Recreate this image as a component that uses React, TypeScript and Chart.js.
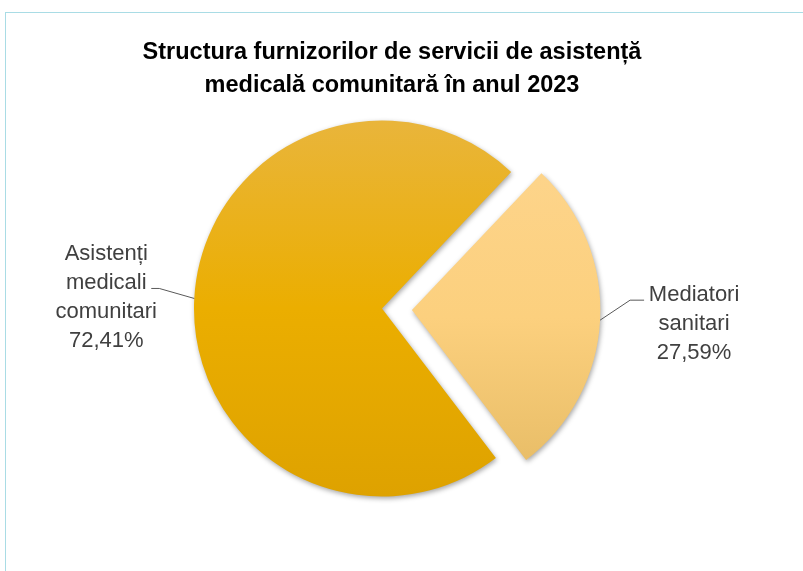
import React, { useEffect, useRef } from "react";
import { Chart, registerables } from "chart.js";

Chart.register(...registerables);

const titleLines = [
  "Structura furnizorilor de servicii de asistență",
  "medicală comunitară în anul 2023",
];
const categories = ["Mediatori sanitari", "Asistenți medicali comunitari"];
const categoryLines = [["Mediatori", "sanitari"], ["Asistenți", "medicali", "comunitari"]];
const values = [27.59, 72.41];
const explode = [120, 0];
const gradientStops = [
  ["#FDD48A", "#FCD07E", "#E9BE68"],
  ["#E9B53B", "#EBAE00", "#DEA200"],
];

const fmtPct = (v: number) => v.toFixed(2).replace(".", ",") + "%";

const shadowPlugin = {
  id: "sliceShadow",
  beforeDatasetsDraw(chart: any) {
    const c = chart.ctx;
    c.save();
    c.shadowColor = "rgba(0,0,0,0.35)";
    c.shadowBlur = 5;
    c.shadowOffsetX = 1;
    c.shadowOffsetY = 2;
  },
  afterDatasetsDraw(chart: any) {
    chart.ctx.restore();
  },
};

const labelPlugin = {
  id: "pieLabels",
  afterDraw(chart: any) {
    const meta = chart.getDatasetMeta(0);
    const c = chart.ctx;
    c.save();
    meta.data.forEach((arc: any, i: number) => {
      const p = arc.getProps(["x", "y", "startAngle", "endAngle", "outerRadius", "circumference"], true);
      const off = (arc.options.offset || 0) / 4;
      const mid = (p.startAngle + p.endAngle) / 2;
      const fix = 1 - Math.sin(Math.min(Math.PI, p.circumference));
      const cx = p.x + Math.cos(mid) * off;
      const cy = p.y + Math.sin(mid) * off;
      const r = p.outerRadius + off * fix;
      const ax = cx + Math.cos(mid) * r;
      const ay = cy + Math.sin(mid) * r;
      const right = Math.cos(mid) > 0;
      const lines = [...categoryLines[i], fmtPct(values[i])];
      c.strokeStyle = "#595959";
      c.lineWidth = 1;
      c.beginPath();
      let textCx: number, firstBase: number;
      if (right) {
        c.moveTo(ax, ay);
        c.lineTo(ax + 30, ay - 20);
        c.lineTo(ax + 44, ay - 20);
        textCx = ax + 94;
        firstBase = ay - 19;
      } else {
        c.moveTo(ax, ay);
        c.lineTo(ax - 35, ay - 10);
        c.lineTo(ax - 43, ay - 10);
        textCx = ax - 88;
        firstBase = ay - 38;
      }
      c.stroke();
      c.fillStyle = "#404040";
      c.font = "22px 'Liberation Sans', Arial, sans-serif";
      c.textAlign = "center";
      c.textBaseline = "alphabetic";
      lines.forEach((t, k) => c.fillText(t, textCx, firstBase + k * 29));
    });
    c.restore();
  },
};

export default function App() {
  const ref = useRef<HTMLCanvasElement | null>(null);

  useEffect(() => {
    if (!ref.current) return;
    const chart = new Chart(ref.current, {
      type: "pie",
      data: {
        labels: categories,
        datasets: [
          {
            data: values,
            offset: explode,
            borderWidth: 0,
            backgroundColor: (ctx: any) => {
              const ch = ctx.chart;
              const area = ch.chartArea;
              const stops = gradientStops[ctx.dataIndex] || gradientStops[0];
              if (!area) return stops[1];
              const cy = (area.top + area.bottom) / 2;
              const y0 = ctx.dataIndex === 0 ? cy - 135 : cy - 188;
              const y1 = ctx.dataIndex === 0 ? cy + 150 : cy + 188;
              const g = ch.ctx.createLinearGradient(0, y0, 0, y1);
              g.addColorStop(0, stops[0]);
              g.addColorStop(0.5, stops[1]);
              g.addColorStop(1, stops[2]);
              return g;
            },
          } as any,
        ],
      },
      options: {
        responsive: false,
        maintainAspectRatio: false,
        animation: false,
        rotation: 43.4,
        radius: 188,
        layout: { padding: { left: 150, right: 189, top: 121, bottom: 75 } },
        plugins: {
          legend: { display: false },
          title: { display: false },
          tooltip: { enabled: false },
        },
      } as any,
      plugins: [shadowPlugin, labelPlugin],
    });
    return () => chart.destroy();
  }, []);

  return (
    <div style={{ position: "absolute", left: 0, top: 0, width: 803, height: 571, background: "#fff" }}>
      <div
        style={{
          position: "absolute",
          left: 5,
          top: 12,
          width: 798,
          height: 559,
          borderTop: "1px solid #A9DCE5",
          borderLeft: "1px solid #A9DCE5",
          boxSizing: "border-box",
        }}
      />
      <canvas ref={ref} width={803} height={571} style={{ position: "absolute", left: 0, top: 0, width: 803, height: 571 }} />
      <div
        style={{
          position: "absolute",
          left: 0,
          top: 35,
          width: 784,
          textAlign: "center",
          fontFamily: "'Liberation Sans', Arial, sans-serif",
          fontWeight: "bold",
          fontSize: 23.5,
          lineHeight: "33px",
          color: "#000000",
        }}
      >
        {titleLines.map((t, i) => (
          <div key={i}>{t}</div>
        ))}
      </div>
    </div>
  );
}
